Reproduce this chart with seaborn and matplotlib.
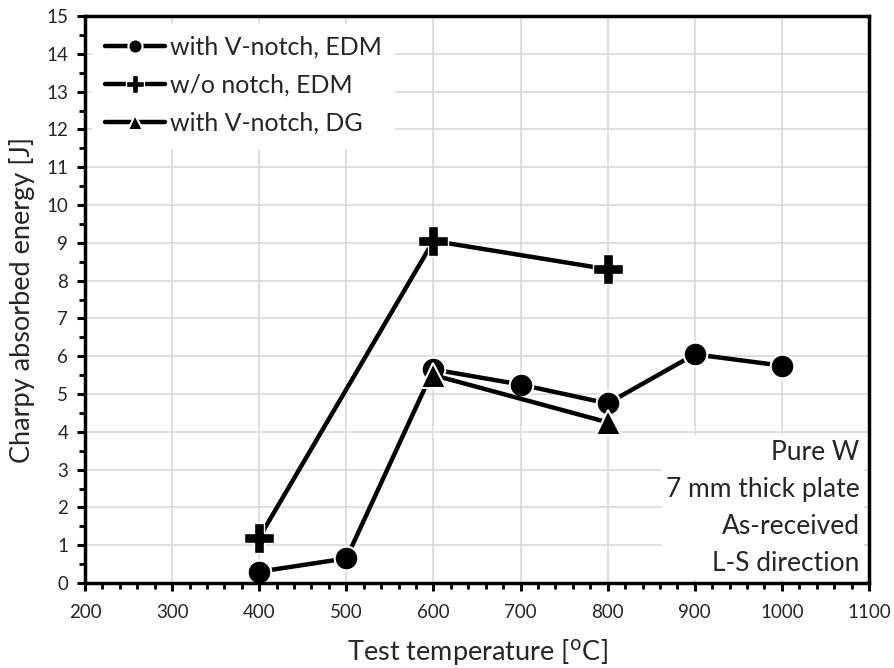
import matplotlib
matplotlib.use("Agg")
import matplotlib.pyplot as plt
import seaborn as sns
import pandas as pd
from matplotlib.ticker import MultipleLocator

sns.set_theme(style="whitegrid")
plt.rcParams['font.family'] = ['Lato', 'DejaVu Sans']

# Data
temp_vedm = [400, 500, 600, 700, 800, 900, 1000]
energy_vedm = [0.3, 0.65, 5.65, 5.25, 4.75, 6.05, 5.75]
temp_noedm = [400, 600, 800]
energy_noedm = [1.2, 9.05, 8.3]
temp_vdg = [600, 800]
energy_vdg = [5.5, 4.25]
labels = ["with V-notch, EDM", "w/o notch, EDM", "with V-notch, DG"]
markers = ["o", "P", "^"]
msizes = [17, 22, 18]
medges = [1.5, 1.0, 1.5]

df = pd.concat([
    pd.DataFrame({"T": temp_vedm, "E": energy_vedm, "series": labels[0]}),
    pd.DataFrame({"T": temp_noedm, "E": energy_noedm, "series": labels[1]}),
    pd.DataFrame({"T": temp_vdg, "E": energy_vdg, "series": labels[2]}),
])

fig = plt.figure(figsize=(8.95, 6.68), dpi=100)
ax = fig.add_axes([85/895, 1-583/668, (869-85)/895, (583-16)/668])

for lab, mk, ms, me in zip(labels, markers, msizes, medges):
    sub = df[df["series"] == lab]
    sns.lineplot(data=sub, x="T", y="E", ax=ax, color="black", linewidth=3.2,
                 marker=mk, markersize=ms, markeredgecolor="white",
                 markeredgewidth=me, label=lab, zorder=3)

ax.set_xlim(200, 1100)
ax.set_ylim(0, 15)
ax.xaxis.set_major_locator(MultipleLocator(100))
ax.xaxis.set_minor_locator(MultipleLocator(20))
ax.yaxis.set_major_locator(MultipleLocator(1))
ax.yaxis.set_minor_locator(MultipleLocator(0.5))
ax.grid(True, which="major", color="#d9d9d9", linewidth=1.2)
ax.grid(False, which="minor")
for s in ax.spines.values():
    s.set_color("black")
    s.set_linewidth(2.5)
    s.set_zorder(7)
ax.tick_params(which="major", direction="out", length=6, width=2.2, color="black",
               labelsize=13.5, bottom=True, left=True, pad=6)
ax.tick_params(axis="x", which="major", pad=9)
ax.tick_params(which="minor", direction="out", length=4, width=2, color="black",
               bottom=True, left=True)
ax.set_xlabel("Test temperature [$^{\\mathrm{o}}$C]", fontsize=19.5, labelpad=12)
ax.set_ylabel("Charpy absorbed energy [J]", fontsize=19.5, labelpad=8)

leg = ax.legend(loc="upper left", fontsize=18, frameon=True, fancybox=False,
                edgecolor="white", framealpha=1, handlelength=2.4,
                handletextpad=0.2, labelspacing=0.6, borderaxespad=0.3,
                markerscale=0.6, borderpad=0.5)
leg.set_zorder(5)

ax.text(0.988, 0.013, "Pure W\n7 mm thick plate\nAs-received\nL-S direction",
        transform=ax.transAxes, ha="right", va="bottom", fontsize=19,
        linespacing=1.6, zorder=4,
        bbox=dict(facecolor="white", edgecolor="none", pad=3))

fig.savefig("out.png", dpi=100)
